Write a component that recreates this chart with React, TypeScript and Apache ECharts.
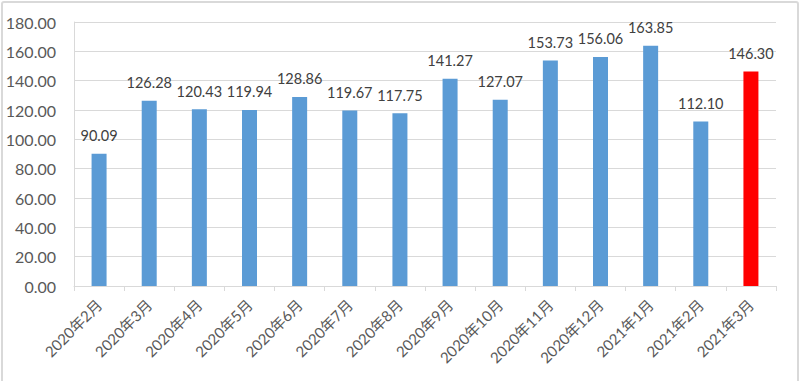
import React, { useEffect, useRef } from "react";
import * as echarts from "echarts";

const categories = [
  "2020年2月", "2020年3月", "2020年4月", "2020年5月", "2020年6月", "2020年7月", "2020年8月",
  "2020年9月", "2020年10月", "2020年11月", "2020年12月", "2021年1月", "2021年2月", "2021年3月",
];
const values = [90.09, 126.28, 120.43, 119.94, 128.86, 119.67, 117.75, 141.27, 127.07, 153.73, 156.06, 163.85, 112.10, 146.30];
const highlightIndex = [13];
const blue = "#5B9BD5";
const red = "#FF0000";
const font = "Lato, 'Noto Sans CJK SC', sans-serif";

export default function App() {
  const ref = useRef<HTMLDivElement>(null);
  useEffect(() => {
    if (!ref.current) return;
    const chart = echarts.init(ref.current, undefined, { renderer: "svg" });
    chart.setOption({
      animation: false,
      backgroundColor: "#ffffff",
      textStyle: { fontFamily: font },
      graphic: [
        {
          type: "rect",
          shape: { x: 2, y: 2, width: 796, height: 390, r: 2 },
          style: { fill: "none", stroke: "#D9D9D9", lineWidth: 2 },
          silent: true,
        },
      ],
      grid: { left: 74, right: 24, top: 22, bottom: 95, containLabel: false },
      xAxis: {
        type: "category",
        data: categories,
        axisLine: { show: true, lineStyle: { color: "#D9D9D9", width: 1 } },
        axisTick: { show: true, alignWithLabel: false, length: 5, lineStyle: { color: "#D9D9D9" } },
        axisLabel: {
          rotate: 45,
          color: "#595959",
          fontSize: 15,
          fontFamily: font,
          margin: 16,
          interval: 0,
        },
      },
      yAxis: {
        type: "value",
        min: 0,
        max: 180,
        interval: 20,
        axisLine: { show: true, lineStyle: { color: "#D9D9D9" } },
        axisTick: { show: false },
        splitLine: { lineStyle: { color: "#D9D9D9", width: 1 } },
        axisLabel: {
          color: "#595959",
          fontSize: 16,
          fontFamily: font,
          margin: 18,
          formatter: (v: number) => v.toFixed(2),
        },
      },
      series: [
        {
          type: "bar",
          barWidth: 15,
          data: values.map((v, i) => ({
            value: v,
            itemStyle: { color: highlightIndex.includes(i) ? red : blue },
          })),
          label: {
            show: true,
            position: "top",
            distance: 11,
            color: "#404040",
            fontSize: 14.5,
            fontFamily: font,
            formatter: (p: any) => Number(p.value).toFixed(2),
          },
        },
      ],
    });
    return () => chart.dispose();
  }, []);
  return (
    <div style={{ position: "fixed", left: 0, top: 0, width: 800, height: 381 }}>
      <div ref={ref} style={{ width: 800, height: 381 }} />
    </div>
  );
}
